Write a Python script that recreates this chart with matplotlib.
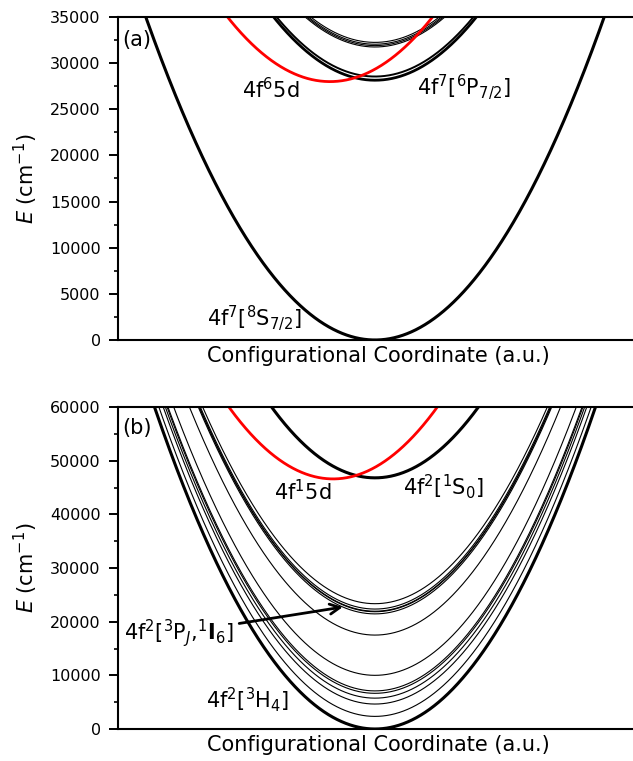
import numpy as np
import matplotlib
matplotlib.use("Agg")
import matplotlib.pyplot as plt
from matplotlib.ticker import MultipleLocator

# ---- data ----
# Panel (a): Eu2+
a_ground_E0 = 0.0                       # 4f7[8S7/2]
a_6P_E0 = [28150, 28550]                # 4f7[6P_J] (thick)
a_6I_E0 = [31750, 31900, 32050, 32250]  # 4f7[6I_J] (thin)
a_5d_E0 = 28000.0                       # 4f6 5d (red)
a_5d_shift = -0.175
a_k = 44000.0

# Panel (b): Pr3+
b_ground_E0 = 0.0                       # 4f2[3H4]
b_thin_E0 = [2350, 4650, 5750, 6650, 7100, 10000, 17500,
             21450, 21850, 21950, 22350, 23350]
b_1S0_E0 = 46800.0                      # 4f2[1S0]
b_5d_E0 = 46600.0                       # 4f1 5d (red)
b_5d_shift = -0.163
b_k = 81500.0

a_yticks = [0, 5000, 10000, 15000, 20000, 25000, 30000, 35000]
b_yticks = [0, 10000, 20000, 30000, 40000, 50000, 60000]

plt.rcParams['font.family'] = ['DejaVu Sans']
plt.rcParams['mathtext.fontset'] = 'dejavusans'

fig = plt.figure(figsize=(6.33, 7.61), dpi=100)
axA = fig.add_axes([118/633, 1-340/761, 520/633, 323/761])
axB = fig.add_axes([118/633, 1-729/761, 520/633, 322/761])

Q = np.linspace(-1.2, 1.2, 2001)

def par(E0, k, q0=0.0):
    return E0 + k*(Q-q0)**2

# panel a
axA.plot(Q, par(a_ground_E0, a_k), color='black', lw=2.2)
for i, e in enumerate(a_6P_E0):
    axA.plot(Q, par(e, a_k), color='black', lw=2.0 if i == 0 else 1.4)
for e in a_6I_E0:
    axA.plot(Q, par(e, a_k), color='black', lw=0.8)
axA.plot(Q, par(a_5d_E0, a_k, a_5d_shift), color='red', lw=2.0)

# panel b
axB.plot(Q, par(b_ground_E0, b_k), color='black', lw=2.2)
for e in b_thin_E0:
    axB.plot(Q, par(e, b_k), color='black', lw=0.8)
axB.plot(Q, par(b_1S0_E0, b_k), color='black', lw=2.2)
axB.plot(Q, par(b_5d_E0, b_k, b_5d_shift), color='red', lw=2.0)

axA.set_ylim(0, 35000)
axB.set_ylim(0, 60000)
xl = (-1.0, 1.0 + 2*(6/514))
for ax, ticks, minor in [(axA, a_yticks, 2500), (axB, b_yticks, 5000)]:
    ax.set_xlim(*xl)
    ax.set_yticks(ticks)
    ax.yaxis.set_minor_locator(MultipleLocator(minor))
    ax.set_xticks([])
    ax.tick_params(axis='y', which='major', length=6.5, width=1.4, labelsize=11.5, pad=6)
    ax.tick_params(axis='y', which='minor', length=3.2, width=1.2)
    for s in ax.spines.values():
        s.set_linewidth(1.5)
    ax.set_xlabel('Configurational Coordinate (a.u.)', fontsize=15, labelpad=4)
    ax.set_ylabel(r'$E$ (cm$^{-1}$)', fontsize=15, labelpad=7)

fs = 15
axA.text(0.008, 0.93, '(a)', transform=axA.transAxes, fontsize=fs, ha='left', va='center')
axA.text(0.293, 0.774, r'4f$^6$5d', transform=axA.transAxes, fontsize=fs, ha='center', va='center')
axA.text(0.665, 0.783, r'4f$^7$[$^6$P$_{7/2}$]', transform=axA.transAxes, fontsize=fs, ha='center', va='center')
axA.text(0.261, 0.068, r'4f$^7$[$^8$S$_{7/2}$]', transform=axA.transAxes, fontsize=fs, ha='center', va='center')

axB.text(0.008, 0.935, '(b)', transform=axB.transAxes, fontsize=fs, ha='left', va='center')
axB.text(0.355, 0.736, r'4f$^1$5d', transform=axB.transAxes, fontsize=fs, ha='center', va='center')
axB.text(0.625, 0.752, r'4f$^2$[$^1$S$_0$]', transform=axB.transAxes, fontsize=fs, ha='center', va='center')
axB.text(0.249, 0.090, r'4f$^2$[$^3$H$_4$]', transform=axB.transAxes, fontsize=fs, ha='center', va='center')
axB.annotate(r'4f$^2$[$^3$P$_J$,$^1$$\mathbf{I}_6$]', xy=(-0.125, 22730), xycoords='data',
             xytext=(0.117, 0.298), textcoords='axes fraction', fontsize=fs,
             ha='center', va='center',
             arrowprops=dict(arrowstyle='->', lw=2, color='black', shrinkA=2, shrinkB=0,
                             mutation_scale=18))

fig.savefig('out.png', dpi=100)
